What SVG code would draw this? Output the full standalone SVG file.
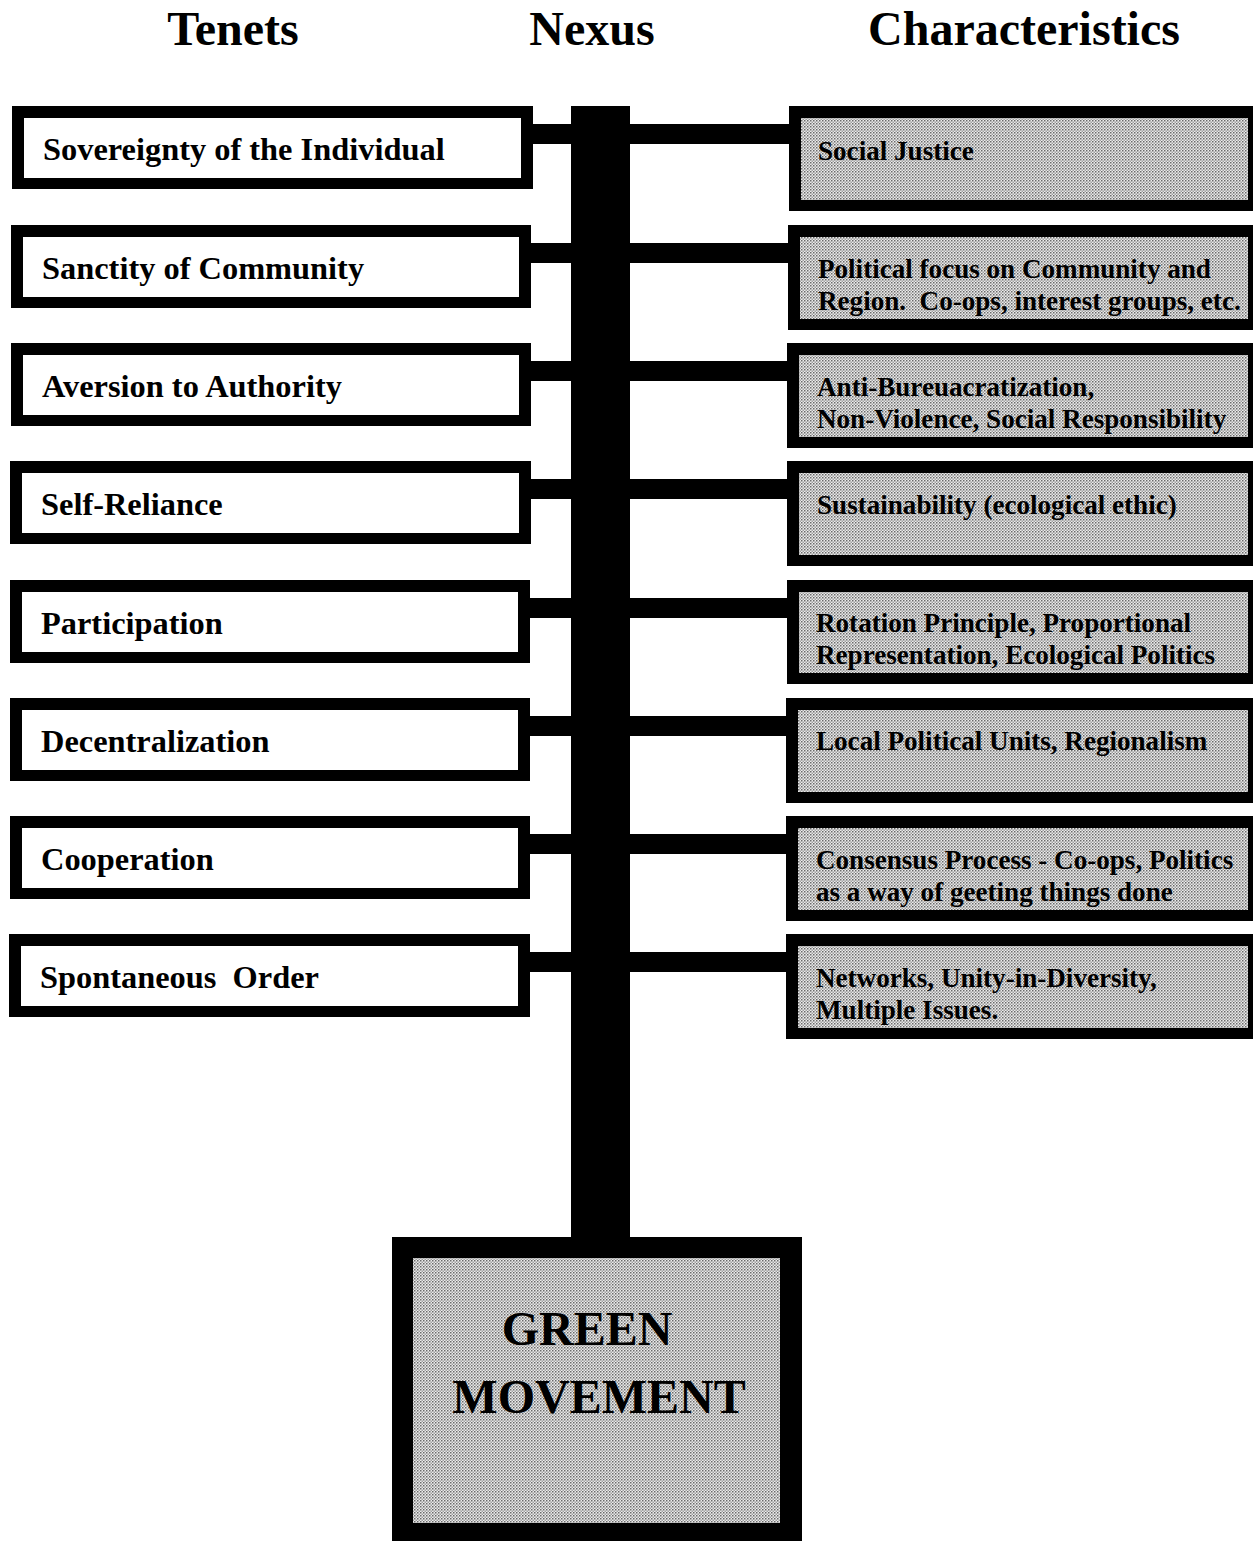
<svg xmlns="http://www.w3.org/2000/svg" width="1253" height="1541" viewBox="0 0 1253 1541">
<defs>
<pattern id="dots" width="3" height="3" patternUnits="userSpaceOnUse">
<rect width="3" height="3" fill="#ebebeb"/>
<rect x="0" y="0" width="1.5" height="1.5" fill="#6a6a6a"/>
<rect x="1.5" y="1.5" width="1.5" height="1.5" fill="#a0a0a0"/>
</pattern>
<style>
.hdr{font-family:"Liberation Serif","Times New Roman",serif;font-weight:bold;font-size:48px;fill:#000}
.ten rect.o{fill:#000}
.ten rect.i{fill:#fff}
.ten text{font-family:"Liberation Serif","Times New Roman",serif;font-weight:bold;font-size:32.4px;fill:#000}
.chr rect.o{fill:#000}
.chr rect.i{fill:url(#dots)}
.chr text{font-family:"Liberation Serif","Times New Roman",serif;font-weight:bold;font-size:27.1px;fill:#000}
.con rect{fill:#000}
.gm text{font-family:"Liberation Serif","Times New Roman",serif;font-weight:bold;font-size:48px;fill:#000}
</style>
</defs>
<rect width="1253" height="1541" fill="#fff"/>

<g id="headers">
<text class="hdr" x="233" y="45" text-anchor="middle">Tenets</text>
<text class="hdr" x="592" y="45" text-anchor="middle">Nexus</text>
<text class="hdr" x="1024" y="45" text-anchor="middle">Characteristics</text>
</g>

<g id="connectors" class="con">
<rect id="nexus" x="571" y="106" width="59" height="1134"/>
<rect x="530" y="124" width="42" height="20"/><rect x="629" y="124" width="162" height="20"/>
<rect x="528" y="243" width="44" height="20"/><rect x="629" y="243" width="161" height="20"/>
<rect x="528" y="361" width="44" height="20"/><rect x="629" y="361" width="160" height="20"/>
<rect x="528" y="479" width="44" height="20"/><rect x="629" y="479" width="160" height="20"/>
<rect x="528" y="598" width="44" height="20"/><rect x="629" y="598" width="159" height="20"/>
<rect x="528" y="716" width="44" height="20"/><rect x="629" y="716" width="159" height="20"/>
<rect x="528" y="834" width="44" height="20"/><rect x="629" y="834" width="158" height="20"/>
<rect x="528" y="952" width="44" height="20"/><rect x="629" y="952" width="158" height="20"/>
</g>

<g id="t1" class="ten"><rect class="o" x="12" y="106" width="521" height="83"/><rect class="i" x="24" y="118" width="497" height="60"/><text x="43" y="160">Sovereignty of the Individual</text></g>
<g id="t2" class="ten"><rect class="o" x="11" y="225" width="520" height="83"/><rect class="i" x="23" y="237" width="496" height="60"/><text x="42" y="279">Sanctity of Community</text></g>
<g id="t3" class="ten"><rect class="o" x="11" y="343" width="520" height="83"/><rect class="i" x="23" y="355" width="496" height="60"/><text x="42" y="397">Aversion to Authority</text></g>
<g id="t4" class="ten"><rect class="o" x="10" y="461" width="521" height="83"/><rect class="i" x="22" y="473" width="497" height="60"/><text x="41" y="515">Self-Reliance</text></g>
<g id="t5" class="ten"><rect class="o" x="10" y="580" width="520" height="83"/><rect class="i" x="22" y="592" width="496" height="60"/><text x="41" y="634">Participation</text></g>
<g id="t6" class="ten"><rect class="o" x="10" y="698" width="520" height="83"/><rect class="i" x="22" y="710" width="496" height="60"/><text x="41" y="752">Decentralization</text></g>
<g id="t7" class="ten"><rect class="o" x="10" y="816" width="520" height="83"/><rect class="i" x="22" y="828" width="496" height="60"/><text x="41" y="870">Cooperation</text></g>
<g id="t8" class="ten"><rect class="o" x="9" y="934" width="521" height="83"/><rect class="i" x="21" y="946" width="497" height="60"/><text x="40" y="988" xml:space="preserve">Spontaneous  Order</text></g>

<g id="c1" class="chr"><rect class="o" x="789" y="106" width="470" height="105"/><rect class="i" x="801" y="118" width="447" height="82"/><text x="818" y="160">Social Justice</text></g>
<g id="c2" class="chr"><rect class="o" x="788" y="225" width="470" height="105"/><rect class="i" x="800" y="237" width="448" height="82"/><text x="818" y="278">Political focus on Community and</text><text x="818" y="310" xml:space="preserve">Region.  Co-ops, interest groups, etc.</text></g>
<g id="c3" class="chr"><rect class="o" x="787" y="343" width="470" height="105"/><rect class="i" x="799" y="355" width="449" height="82"/><text x="817" y="396">Anti-Bureuacratization,</text><text x="817" y="428">Non-Violence, Social Responsibility</text></g>
<g id="c4" class="chr"><rect class="o" x="787" y="461" width="470" height="105"/><rect class="i" x="799" y="473" width="449" height="82"/><text x="817" y="514">Sustainability (ecological ethic)</text></g>
<g id="c5" class="chr"><rect class="o" x="787" y="580" width="470" height="104"/><rect class="i" x="799" y="592" width="449" height="81"/><text x="816" y="632">Rotation Principle, Proportional</text><text x="816" y="664">Representation, Ecological Politics</text></g>
<g id="c6" class="chr"><rect class="o" x="786" y="698" width="470" height="105"/><rect class="i" x="798" y="710" width="450" height="82"/><text x="816" y="750">Local Political Units, Regionalism</text></g>
<g id="c7" class="chr"><rect class="o" x="786" y="816" width="470" height="105"/><rect class="i" x="798" y="828" width="450" height="82"/><text x="816" y="869">Consensus Process - Co-ops, Politics</text><text x="816" y="901">as a way of geeting things done</text></g>
<g id="c8" class="chr"><rect class="o" x="786" y="934" width="470" height="105"/><rect class="i" x="798" y="946" width="450" height="82"/><text x="816" y="987">Networks, Unity-in-Diversity,</text><text x="816" y="1019">Multiple Issues.</text></g>

<g id="green" class="gm">
<rect x="392" y="1237" width="410" height="304" fill="#000"/>
<rect x="413" y="1258" width="367" height="265" fill="url(#dots)"/>
<text x="587" y="1345" text-anchor="middle">GREEN</text>
<text x="599" y="1413" text-anchor="middle">MOVEMENT</text>
</g>
</svg>
